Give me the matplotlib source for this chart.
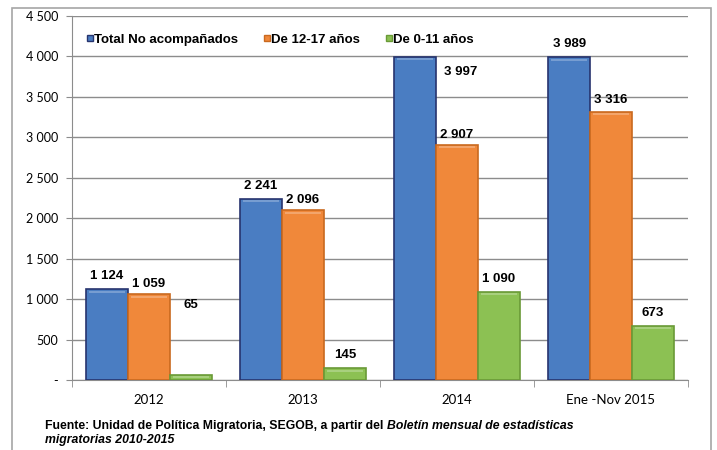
import matplotlib
matplotlib.use('Agg')
import matplotlib.pyplot as plt
from matplotlib.patches import Rectangle
from matplotlib.lines import Line2D
import numpy as np

# datos
categorias = ['2012', '2013', '2014', 'Ene -Nov 2015']
series = ['Total No acompañados', 'De 12-17 años', 'De 0-11 años']
total = [1124, 2241, 3997, 3989]
de_12_17 = [1059, 2096, 2907, 3316]
de_0_11 = [65, 145, 1090, 673]
yticks = [0, 500, 1000, 1500, 2000, 2500, 3000, 3500, 4000, 4500]
ytick_labels = ['-', '500', '1 000', '1 500', '2 000', '2 500', '3 000', '3 500', '4 000', '4 500']

colores = ['#4a7dc2', '#f0883a', '#8cc153']
bordes = ['#27346e', '#c9691f', '#6a9a37']

def fmt(v):
    return '{:,}'.format(v).replace(',', ' ')

fig = plt.figure(figsize=(7.17, 4.5), dpi=100)
ax = fig.add_axes([72/717, 1-380/450, (688-72)/717, (380-16)/450])

# marco exterior
fig.patches.append(Rectangle((12/717, -0.05), 699/717, 1.05 - 8/450,
                             transform=fig.transFigure, fill=False,
                             edgecolor='#a6a6a6', lw=1.2))

x = np.arange(len(categorias))
w = 0.272
datos = [total, de_12_17, de_0_11]
for i, vals in enumerate(datos):
    ax.bar(x + (i - 1) * w, vals, w, color=colores[i], edgecolor=bordes[i],
           linewidth=1.2, zorder=3)
    # brillo superior
    ax.bar(x + (i - 1) * w, [25] * len(vals), w * 0.85, bottom=np.array(vals) - 45,
           color='white', alpha=0.25, linewidth=0, zorder=4)

# etiquetas de valores (desplazamientos en puntos)
desp = [[(0, 5), (0, 5), (33, -15), (0, 5)],
        [(0, 3), (0, 3), (0, 3), (0, 4)],
        [(0, 46), (0, 5), (0, 5), (0, 5)]]
for i, vals in enumerate(datos):
    for j, v in enumerate(vals):
        dx, dy = desp[i][j]
        ax.annotate(fmt(v), (x[j] + (i - 1) * w, v), xytext=(dx, dy),
                    textcoords='offset points', ha='center', va='bottom',
                    fontsize=9.5, fontweight='bold', family='Liberation Sans',
                    zorder=5)

ax.set_xlim(-0.5, 3.5)
ax.set_ylim(0, 4500)
ax.set_yticks(yticks)
ax.set_yticklabels(ytick_labels, family='Lato', fontsize=9)
ax.yaxis.grid(True, color='#8c8c8c', lw=1.0, zorder=0)
ax.set_axisbelow(True)
ax.tick_params(axis='y', length=4, color='#8c8c8c', pad=6)

ax.set_xticks(x)
ax.set_xticklabels(categorias, family='Lato', fontsize=9.5)
ax.tick_params(axis='x', length=0, pad=10)
ax.set_xticks(np.arange(-0.5, 4, 1), minor=True)
ax.tick_params(axis='x', which='minor', length=5, color='#8c8c8c')

for s in ['top', 'right']:
    ax.spines[s].set_visible(False)
for s in ['left', 'bottom']:
    ax.spines[s].set_color('#8c8c8c')

handles = [Line2D([], [], marker='s', ls='', markersize=5, markerfacecolor=colores[i],
                  markeredgecolor=bordes[i]) for i in range(3)]
ax.legend(handles, series, loc='upper left', bbox_to_anchor=(0.005, 0.985), ncol=3,
          frameon=False, handlelength=0.45, handletextpad=0.1, columnspacing=1.95,
          prop={'family': 'Liberation Sans', 'weight': 'bold', 'size': 9.5})

t1 = fig.text(45/717, 1-426/450, 'Fuente: Unidad de Política Migratoria, SEGOB, a partir del ',
              family='Liberation Sans', fontweight='bold', fontsize=8.8, va='center')
fig.canvas.draw()
ax.annotate('Boletín mensual de estadísticas', xy=(1, 0.5), xycoords=t1, va='center',
            family='Liberation Sans', fontweight='bold', fontstyle='italic', fontsize=8.8,
            annotation_clip=False)
fig.text(45/717, 1-440/450, 'migratorias 2010-2015', family='Liberation Sans',
         fontweight='bold', fontstyle='italic', fontsize=8.8, va='center')

fig.savefig('out.png', dpi=100)
